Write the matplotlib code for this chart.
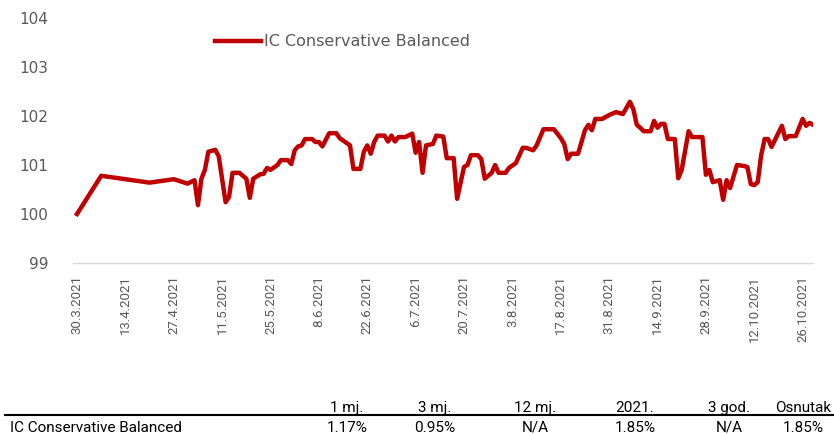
import pandas as pd
import matplotlib
matplotlib.use("Agg")
from matplotlib import pyplot as plt
import matplotlib.dates as mdates

# values
dates = [
    "2021-03-30", "2021-04-06", "2021-04-20", "2021-04-27", "2021-05-01", "2021-05-03",
    "2021-05-04", "2021-05-05", "2021-05-06", "2021-05-07", "2021-05-09", "2021-05-10",
    "2021-05-12", "2021-05-13", "2021-05-14", "2021-05-16", "2021-05-18", "2021-05-19",
    "2021-05-20", "2021-05-22", "2021-05-23", "2021-05-24", "2021-05-25", "2021-05-27",
    "2021-05-28", "2021-05-30", "2021-05-31", "2021-06-01", "2021-06-02", "2021-06-03",
    "2021-06-04", "2021-06-06", "2021-06-07", "2021-06-08", "2021-06-09", "2021-06-11",
    "2021-06-13", "2021-06-14", "2021-06-15", "2021-06-17", "2021-06-18", "2021-06-20",
    "2021-06-21", "2021-06-22", "2021-06-23", "2021-06-24", "2021-06-25", "2021-06-27",
    "2021-06-28", "2021-06-29", "2021-06-30", "2021-07-01", "2021-07-03", "2021-07-05",
    "2021-07-06", "2021-07-07", "2021-07-08", "2021-07-09", "2021-07-11", "2021-07-12",
    "2021-07-14", "2021-07-15", "2021-07-17", "2021-07-18", "2021-07-20", "2021-07-21",
    "2021-07-22", "2021-07-24", "2021-07-25", "2021-07-26", "2021-07-28", "2021-07-29",
    "2021-07-30", "2021-08-01", "2021-08-02", "2021-08-04", "2021-08-06", "2021-08-07",
    "2021-08-09", "2021-08-10", "2021-08-12", "2021-08-15", "2021-08-17", "2021-08-18",
    "2021-08-19", "2021-08-20", "2021-08-22", "2021-08-24", "2021-08-25", "2021-08-26",
    "2021-08-27", "2021-08-29", "2021-08-31", "2021-09-02", "2021-09-04", "2021-09-06",
    "2021-09-07", "2021-09-08", "2021-09-09", "2021-09-10", "2021-09-12", "2021-09-13",
    "2021-09-14", "2021-09-15", "2021-09-16", "2021-09-17", "2021-09-19", "2021-09-20",
    "2021-09-21", "2021-09-23", "2021-09-24", "2021-09-27", "2021-09-28", "2021-09-29",
    "2021-09-30", "2021-10-02", "2021-10-03", "2021-10-04", "2021-10-05", "2021-10-07",
    "2021-10-09", "2021-10-10", "2021-10-11", "2021-10-12", "2021-10-13", "2021-10-14",
    "2021-10-15", "2021-10-16", "2021-10-17", "2021-10-20", "2021-10-21", "2021-10-22",
    "2021-10-24", "2021-10-26", "2021-10-27", "2021-10-28", "2021-10-29",
]
values = [
    100.00, 100.78, 100.64, 100.71, 100.62, 100.69,
    100.18, 100.72, 100.90, 101.27, 101.31, 101.18,
    100.24, 100.35, 100.84, 100.84, 100.72, 100.33,
    100.72, 100.81, 100.82, 100.94, 100.90, 101.00,
    101.10, 101.10, 101.02, 101.30, 101.38, 101.40,
    101.53, 101.53, 101.47, 101.47, 101.38, 101.65,
    101.65, 101.55, 101.50, 101.40, 100.92, 100.92,
    101.27, 101.40, 101.23, 101.47, 101.60, 101.60,
    101.48, 101.60, 101.48, 101.57, 101.57, 101.64,
    101.25, 101.47, 100.84, 101.40, 101.43, 101.60,
    101.58, 101.14, 101.14, 100.31, 100.96, 101.00,
    101.20, 101.20, 101.12, 100.72, 100.84, 101.00,
    100.84, 100.84, 100.94, 101.04, 101.35, 101.35,
    101.30, 101.40, 101.73, 101.73, 101.55, 101.43,
    101.12, 101.23, 101.23, 101.71, 101.82, 101.71,
    101.94, 101.94, 102.02, 102.08, 102.04, 102.29,
    102.14, 101.82, 101.76, 101.69, 101.69, 101.90,
    101.76, 101.84, 101.84, 101.53, 101.53, 100.73,
    100.90, 101.69, 101.57, 101.57, 100.80, 100.90,
    100.65, 100.69, 100.29, 100.69, 100.53, 101.00,
    100.98, 100.96, 100.61, 100.59, 100.65, 101.20,
    101.53, 101.53, 101.37, 101.80, 101.53, 101.59,
    101.59, 101.94, 101.80, 101.86, 101.82,
]
fund_name = "IC Conservative Balanced"
tick_dates = ["2021-03-30", "2021-04-13", "2021-04-27", "2021-05-11", "2021-05-25",
              "2021-06-08", "2021-06-22", "2021-07-06", "2021-07-20", "2021-08-03",
              "2021-08-17", "2021-08-31", "2021-09-14", "2021-09-28", "2021-10-12",
              "2021-10-26"]
y_ticks = [99, 100, 101, 102, 103, 104]

col_headers = ["1 mj.", "3 mj.", "12 mj.", "2021.", "3 god.", "Osnutak"]
col_values = ["1.17%", "0.95%", "N/A", "1.85%", "N/A", "1.85%"]
col_centers = [347, 435, 535, 635, 729, 803]

RED = "#C00000"
GREY = "#595959"
W, H = 834, 434

x = pd.to_datetime(dates)
ticks = pd.to_datetime(tick_dates)

fig = plt.figure(figsize=(W / 100, H / 100), dpi=100)
ax = fig.add_axes([73 / W, (H - 263) / H, (813 - 73) / W, (263 - 18) / H])

ax.plot(x, values, color=RED, lw=3.2, solid_joinstyle="round", label=fund_name)

ax.set_ylim(99, 104)
ax.set_yticks(y_ticks)
ax.set_xlim(x[0] - pd.Timedelta(hours=28), x[-1])
ax.set_xticks(ticks)
ax.xaxis.set_major_formatter(plt.FuncFormatter(
    lambda v, p: (lambda d: f"{d.day}.{d.month}.{d.year}")(mdates.num2date(v))))

for s in ["top", "left", "right"]:
    ax.spines[s].set_visible(False)
ax.spines["bottom"].set_color("#d9d9d9")
ax.spines["bottom"].set_linewidth(1)
ax.tick_params(axis="y", length=0, pad=18, labelsize=11, labelcolor=GREY)
ax.tick_params(axis="x", length=0, pad=9, labelsize=9.5, labelcolor=GREY,
               labelrotation=90)
for lab in ax.get_xticklabels():
    lab.set_fontfamily("Roboto")

leg = ax.legend(loc="center left", bbox_to_anchor=(215 / W, 1 - 42 / H),
                bbox_transform=fig.transFigure, frameon=False, fontsize=11.5,
                handlelength=2.9, handletextpad=0.15, borderpad=0, borderaxespad=0)
for t in leg.get_texts():
    t.set_color(GREY)

# performance table under the chart
fig.add_artist(plt.Line2D([5 / W, 1], [1 - 415 / H] * 2, color="black", lw=1.5,
                          transform=fig.transFigure))
fig.text(10 / W, 1 - 432 / H, fund_name, family="Roboto", fontsize=11,
         color="black", va="baseline")
for c, h, v in zip(col_centers, col_headers, col_values):
    fig.text(c / W, 1 - 412 / H, h, family="Roboto", fontsize=11, color="black",
             ha="center", va="baseline")
    fig.text(c / W, 1 - 432 / H, v, family="Roboto", fontsize=11, color="black",
             ha="center", va="baseline")

fig.savefig("out.png", dpi=100)
